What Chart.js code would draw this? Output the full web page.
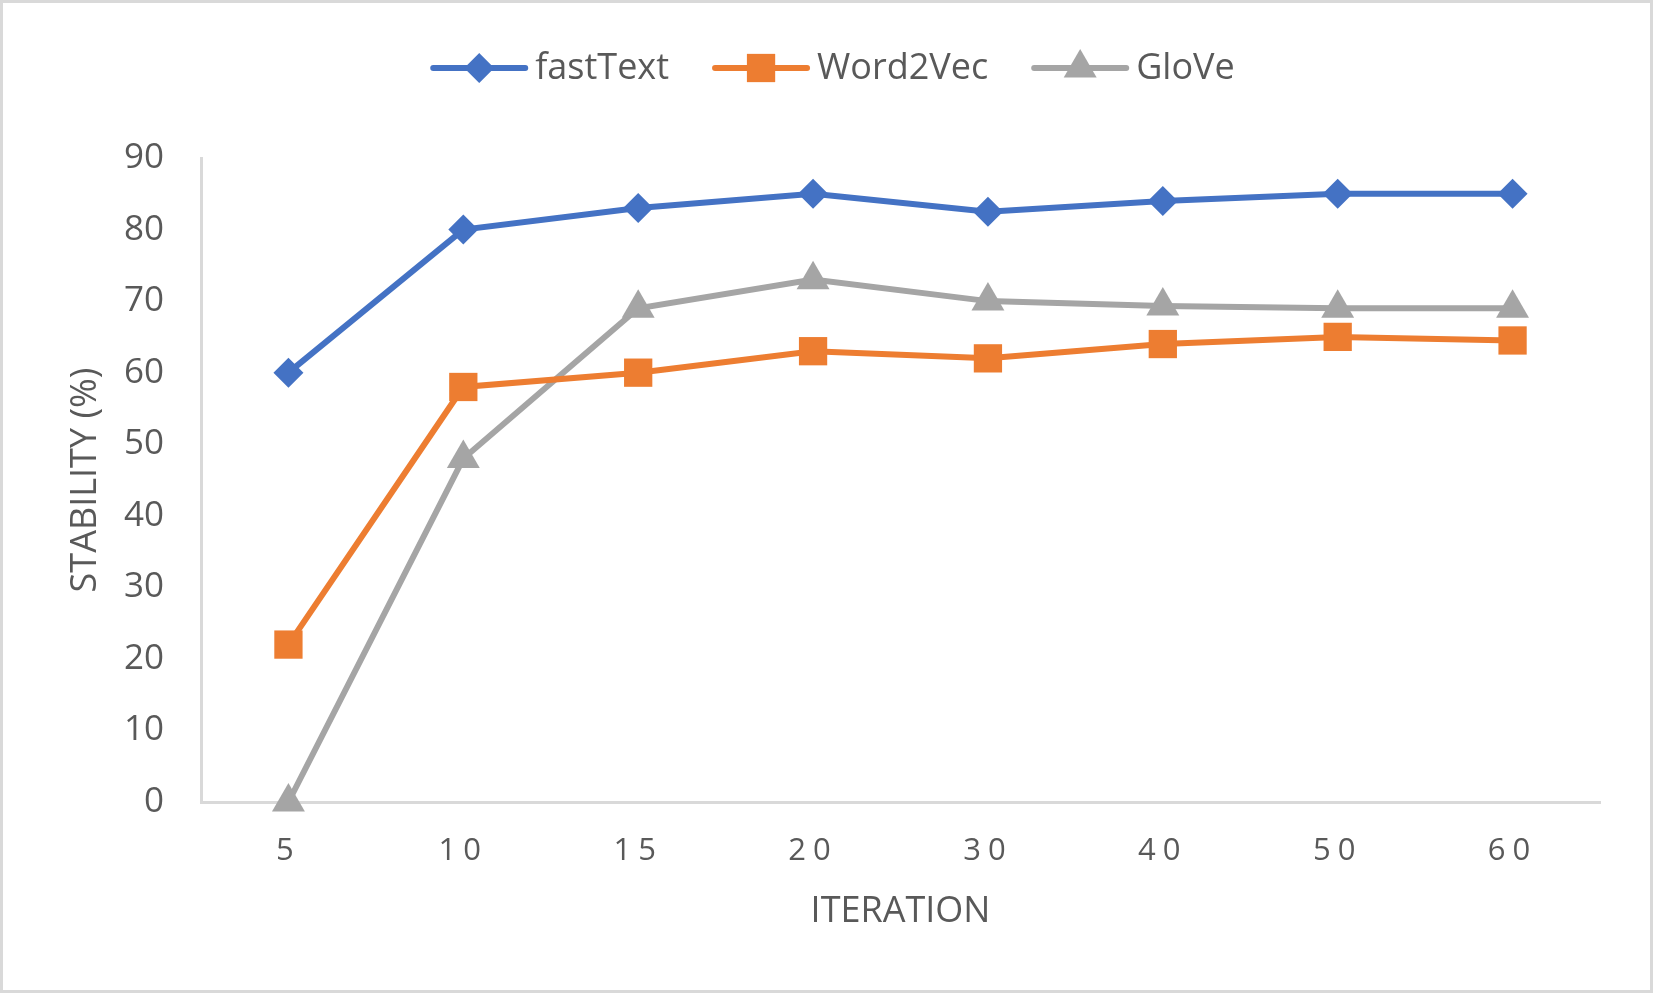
<!DOCTYPE html>
<html>
<head>
<meta charset="utf-8">
<script src="https://cdn.jsdelivr.net/npm/chart.js@4.4.1/dist/chart.umd.min.js"></script>
<style>
html, body { margin: 0; padding: 0; background: #fff; }
#wrap { width: 1653px; height: 993px; position: relative; }
</style>
</head>
<body>
<div id="wrap"><canvas id="chart"></canvas></div>
<script>
// データ
const iterations = ["5", "10", "15", "20", "30", "40", "50", "60"];
const fastTextValues = [60, 80, 83, 85, 82.5, 84, 85, 85];
const word2VecValues = [22, 58, 60, 63, 62, 64, 65, 64.5];
const gloVeValues = [0, 48, 69, 73, 70, 69.3, 69, 69];
const yMin = 0;
const yMax = 90;
const yStep = 10;

const textColor = "#595959";
const axisColor = "#D9D9D9";
const fontName = '"Open Sans", "Noto Sans", sans-serif';

// 背景と外枠
const frame = {
    id: "frame",
    beforeDraw(chart) {
        const ctx = chart.ctx;
        ctx.save();
        ctx.fillStyle = "#fff";
        ctx.fillRect(0, 0, chart.width, chart.height);
        ctx.strokeStyle = axisColor;
        ctx.lineWidth = 3;
        ctx.strokeRect(1.5, 1.5, chart.width - 3, chart.height - 3);
        ctx.restore();
    }
};

// X軸ラベルの文字間隔
const spacedXLabels = {
    id: "spacedXLabels",
    beforeDraw(chart) {
        const sc = chart.scales.x;
        if (sc && !sc._spaced) {
            const orig = sc.drawLabels;
            sc.drawLabels = function (area) {
                const c = this.ctx;
                c.letterSpacing = "7px";
                orig.call(this, area);
                c.letterSpacing = "0px";
            };
            sc._spaced = true;
        }
    }
};

// 線＋マーカーの凡例
const lineLegend = {
    id: "lineLegend",
    afterDraw(chart) {
        const ctx = chart.ctx;
        const y = 68;
        const lineLen = 92, gap = 10, itemGap = 46;
        ctx.save();
        ctx.font = "36px " + fontName;
        const items = chart.data.datasets.map(ds => ({
            ds: ds,
            w: lineLen + gap + ctx.measureText(ds.label).width
        }));
        const total = items.reduce((s, it) => s + it.w, 0) + itemGap * (items.length - 1);
        let x = 834 - total / 2;
        items.forEach(it => {
            ctx.strokeStyle = it.ds.borderColor;
            ctx.lineWidth = 6;
            ctx.lineCap = "round";
            ctx.beginPath();
            ctx.moveTo(x, y);
            ctx.lineTo(x + lineLen, y);
            ctx.stroke();
            ctx.fillStyle = it.ds.borderColor;
            Chart.helpers.drawPoint(ctx, {
                pointStyle: it.ds.pointStyle,
                radius: it.ds.pointRadius,
                rotation: 0,
                borderWidth: 0
            }, x + lineLen / 2, y);
            ctx.fillStyle = textColor;
            ctx.textBaseline = "middle";
            ctx.textAlign = "left";
            ctx.fillText(it.ds.label, x + lineLen + gap, y + 1);
            x += it.w + itemGap;
        });
        ctx.restore();
    }
};

function makeSeries(label, data, color, style, radius) {
    return {
        label: label,
        data: data,
        borderColor: color,
        backgroundColor: color,
        borderWidth: 6,
        pointStyle: style,
        pointRadius: radius,
        pointHoverRadius: radius,
        pointBackgroundColor: color,
        pointBorderColor: color,
        pointBorderWidth: 0,
        tension: 0,
        clip: false
    };
}

const ctx = document.getElementById("chart").getContext("2d");
new Chart(ctx, {
    type: "line",
    data: {
        labels: iterations,
        datasets: [
            makeSeries("fastText", fastTextValues, "#4472C4", "rectRot", 15),
            makeSeries("Word2Vec", word2VecValues, "#ED7D31", "rect", 20),
            makeSeries("GloVe", gloVeValues, "#A5A5A5", "triangle", 19)
        ]
    },
    options: {
        responsive: true,
        maintainAspectRatio: false,
        animation: false,
        devicePixelRatio: 1,
        layout: { padding: { top: 158, right: 53, left: 0, bottom: 0 } },
        plugins: {
            legend: { display: false },
            tooltip: { enabled: false }
        },
        scales: {
            x: {
                offset: true,
                grid: { display: false, drawTicks: false },
                border: { display: true, color: axisColor, width: 3 },
                ticks: {
                    color: textColor,
                    font: { family: fontName, size: 31 },
                    padding: 31,
                    maxRotation: 0
                },
                title: {
                    display: true,
                    text: "ITERATION",
                    color: textColor,
                    font: { family: fontName, size: 36 },
                    padding: { top: 0, bottom: 60 }
                },
                afterFit: s => { s.height = 191; }
            },
            y: {
                min: yMin,
                max: yMax,
                grid: { display: false, drawTicks: false },
                border: { display: true, color: axisColor, width: 3 },
                ticks: {
                    stepSize: yStep,
                    color: textColor,
                    font: { family: fontName, size: 35 },
                    padding: 37
                },
                title: {
                    display: true,
                    text: "STABILITY (%)",
                    color: textColor,
                    font: { family: fontName, size: 36 },
                    padding: { top: 64, bottom: 0 }
                },
                afterFit: s => { s.width = 201; }
            }
        }
    },
    plugins: [frame, spacedXLabels, lineLegend]
});
</script>
</body>
</html>
